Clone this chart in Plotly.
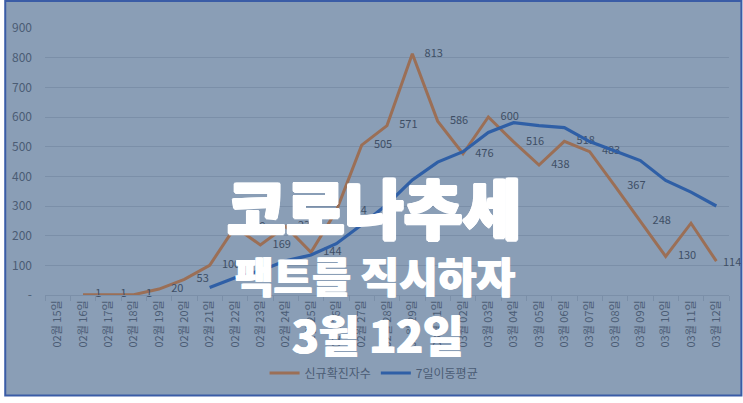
import plotly.graph_objects as go

dates = ["02월 15일", "02월 16일", "02월 17일", "02월 18일", "02월 19일", "02월 20일",
         "02월 21일", "02월 22일", "02월 23일", "02월 24일", "02월 25일", "02월 26일",
         "02월 27일", "02월 28일", "02월 29일", "03월 01일", "03월 02일", "03월 03일",
         "03월 04일", "03월 05일", "03월 06일", "03월 07일", "03월 08일", "03월 09일",
         "03월 10일", "03월 11일", "03월 12일"]
new_cases = [None, 1, 1, 1, 20, 53, 100, 229, 169, 231, 144, 284, 505, 571, 813,
             586, 476, 600, 516, 438, 518, 483, 367, 248, 130, 242, 114]
moving_avg = [None, None, None, None, None, None, 25, 58, 82, 115, 135, 173, 237,
              305, 388, 448, 483, 548, 581, 571, 564, 517, 485, 453, 386, 347, 300]
y_ticks = [0, 100, 200, 300, 400, 500, 600, 700, 800, 900]
y_ticktext = ["-", "100", "200", "300", "400", "500", "600", "700", "800", "900"]

BG = "#8a9eb6"
GRID = "#7b8fa8"
TXT = "#4b5c74"
LBL = "#3e4e65"
BROWN = "#9b6f56"
BLUE = "#2f5fa6"
FONT = "Noto Sans CJK KR"

W, H = 743, 403
L, R, T, B = 41, 729, 28, 295
pw, ph = R - L, B - T


def px(x):
    return (x - L) / pw


def py(y):
    return (B - y) / ph


labels = [("" if v is None else str(v)) for v in new_cases]
labels[-1] = ""

fig = go.Figure()
fig.add_trace(go.Scatter(
    x=dates, y=new_cases, name="신규확진자수", mode="lines+markers+text",
    line=dict(color=BROWN, width=3),
    marker=dict(size=18, color="rgba(0,0,0,0)"),
    text=labels,
    textposition="middle right",
    textfont=dict(family=FONT, size=11, color=LBL),
    cliponaxis=False,
))
fig.add_trace(go.Scatter(
    x=dates, y=moving_avg, name="7일이동평균", mode="lines",
    line=dict(color=BLUE, width=3.2),
))
fig.add_annotation(x=dates[-1], y=new_cases[-1], text=str(new_cases[-1]), showarrow=False,
                   xanchor="left", yanchor="middle", xshift=5,
                   font=dict(family=FONT, size=11, color=LBL))

fig.add_shape(type="rect", xref="paper", yref="paper",
              x0=px(1), x1=px(741.5), y0=py(395.5), y1=py(1),
              line=dict(color="#3a5ca6", width=2), fillcolor=BG, layer="below")


def thick(d, full):
    if full:
        e = round(d * 0.7, 2)
        pts = [(d, 0), (-d, 0), (0, d), (0, -d), (e, e), (-e, -e), (e, -e), (-e, e)]
    else:
        pts = [(d, 0), (-d, 0)]
    return ", ".join(f"{a}px {b}px 0 white" for a, b in pts)


titles = [("코로나추세", 372, 205, 64, 1.5, True), ("팩트를 직시하자", 373, 274, 42, 0.8, False),
          ("3월 12일", 375, 334, 44, 0.8, False)]
for txt, cx, cy, fs, d, full in titles:
    fig.add_annotation(text=txt, xref="paper", yref="paper", x=px(cx), y=py(cy),
                       xanchor="center", yanchor="middle", showarrow=False,
                       font=dict(family=FONT, size=fs, color="white", weight=900,
                                 shadow=thick(d, full)))

fig.update_layout(
    width=W, height=H,
    margin=dict(l=L, r=W - R, t=T, b=H - B, pad=0),
    paper_bgcolor="white", plot_bgcolor="rgba(0,0,0,0)",
    font=dict(family=FONT, color=TXT, size=11),
    showlegend=True,
    legend=dict(orientation="h", x=px(372), y=py(373), xanchor="center", yanchor="middle",
                bgcolor="rgba(0,0,0,0)", font=dict(size=12, color=TXT, family=FONT),
                itemwidth=30),
    xaxis=dict(type="category", tickangle=-90, showgrid=False, showline=True,
               linecolor=GRID, ticks="outside", tickson="boundaries", ticklen=5,
               tickcolor=GRID, tickfont=dict(size=11, color=TXT, family=FONT),
               range=[-0.5, len(dates) - 0.5]),
    yaxis=dict(range=[0, 900], tickvals=y_ticks, ticktext=y_ticktext, showgrid=True,
               gridcolor=GRID, gridwidth=1, zeroline=False, showline=False,
               ticks="", ticklabelstandoff=12,
               tickfont=dict(size=12, color=TXT, family=FONT)),
)

fig.write_html("out.html", post_script="document.body.style.margin='0';",
               config={"displayModeBar": False})
